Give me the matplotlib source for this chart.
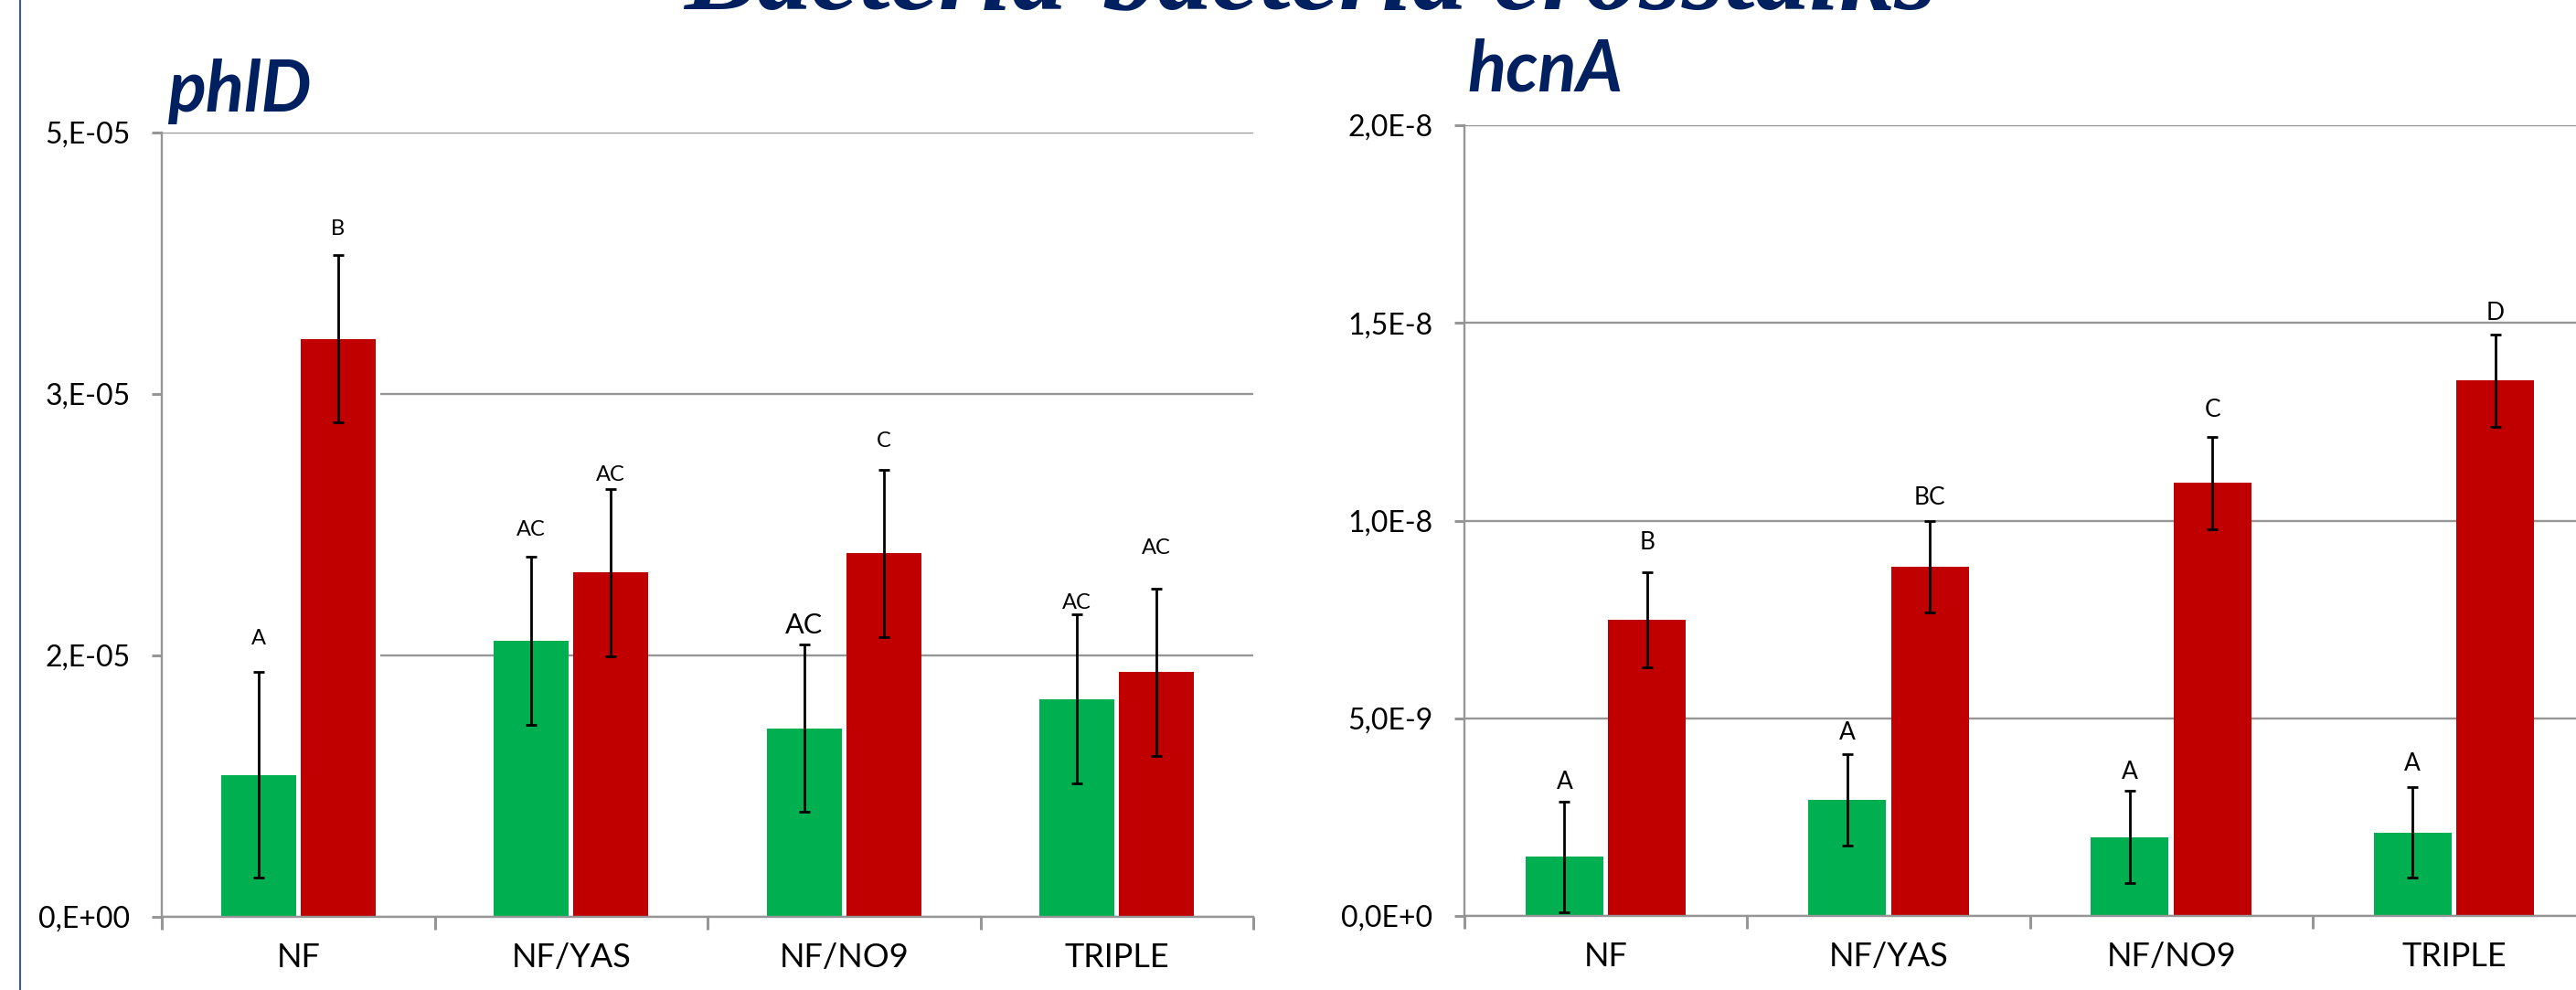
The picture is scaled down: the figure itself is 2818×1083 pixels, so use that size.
import numpy as np
import matplotlib
matplotlib.use("Agg")
import matplotlib.pyplot as plt
from matplotlib.patches import Rectangle
from matplotlib.lines import Line2D

plt.rcParams['font.family'] = ['Lato', 'DejaVu Sans']

categories = ["NF", "NF/YAS", "NF/NO9", "TRIPLE"]

# phlD panel
phld_green = [8.15e-6, 1.584e-5, 1.081e-5, 1.249e-5]
phld_green_err = [5.9e-6, 4.85e-6, 4.8e-6, 4.85e-6]
phld_red = [3.317e-5, 1.976e-5, 2.087e-5, 1.404e-5]
phld_red_err = [4.8e-6, 4.8e-6, 4.8e-6, 4.8e-6]
phld_green_letters = ["A", "AC", "AC", "AC"]
phld_red_letters = ["B", "AC", "C", "AC"]
phld_green_letter_y = [1.598e-5, 2.219e-5, 1.673e-5, 1.801e-5]
phld_red_letter_y = [3.948e-5, 2.538e-5, 2.728e-5, 2.114e-5]
phld_ticks = [0, 1.5e-5, 3e-5, 4.5e-5]
phld_ticklabels = ["0,E+00", "2,E-05", "3,E-05", "5,E-05"]

# hcnA panel
hcna_green = [1.50e-9, 2.93e-9, 2.00e-9, 2.11e-9]
hcna_green_err = [1.4e-9, 1.16e-9, 1.16e-9, 1.15e-9]
hcna_red = [7.50e-9, 8.84e-9, 1.095e-8, 1.354e-8]
hcna_red_err = [1.2e-9, 1.16e-9, 1.16e-9, 1.17e-9]
hcna_green_letters = ["A", "A", "A", "A"]
hcna_red_letters = ["B", "BC", "C", "D"]
hcna_green_letter_y = [3.39e-9, 4.64e-9, 3.65e-9, 3.85e-9]
hcna_red_letter_y = [9.45e-9, 1.058e-8, 1.279e-8, 1.524e-8]
hcna_ticks = [0, 5e-9, 1e-8, 1.5e-8, 2e-8]
hcna_ticklabels = ["0,0E+0", "5,0E-9", "1,0E-8", "1,5E-8", "2,0E-8"]

GREEN = "#00B050"
RED = "#C00000"
GRID = "#969696"
NAVY = "#002060"


def draw_panel(ax, green, green_err, red, red_err, g_letters, r_letters,
               g_ly, r_ly, ticks, ticklabels, letter_size, big_letter=None):
    x = np.arange(len(categories))
    w = 0.275
    off = 0.146
    ax.bar(x - off, green, w, color=GREEN, zorder=2)
    ax.bar(x + off, red, w, color=RED, zorder=2)
    ax.errorbar(x - off, green, yerr=green_err, fmt="none", ecolor="black",
                elinewidth=2, capsize=4.3, capthick=2, zorder=3)
    ax.errorbar(x + off, red, yerr=red_err, fmt="none", ecolor="black",
                elinewidth=2, capsize=4.3, capthick=2, zorder=3)
    for i in range(len(categories)):
        size = letter_size
        if big_letter is not None and i == big_letter:
            size = letter_size * 1.3
        ax.text(x[i] - off, g_ly[i], g_letters[i], ha="center", va="center",
                fontsize=size, zorder=4)
        ax.text(x[i] + off, r_ly[i], r_letters[i], ha="center", va="center",
                fontsize=letter_size, zorder=4)

    ax.set_xlim(-0.5, len(categories) - 0.5)
    ax.set_ylim(0, ticks[-1])
    ax.set_yticks(ticks)
    ax.set_yticklabels(ticklabels)
    ax.set_xticks(np.arange(-0.5, len(categories), 1))
    ax.set_xticklabels([])
    ax.set_xticks(x, minor=True)
    ax.set_xticklabels(categories, minor=True)
    ax.tick_params(axis="x", which="major", length=14 * 0.72, width=2.2, color=GRID)
    ax.tick_params(axis="x", which="minor", length=0, pad=20, labelsize=26)
    ax.tick_params(axis="y", length=11 * 0.72, width=2.2, color=GRID, pad=17, labelsize=23)

    ax.set_axisbelow(True)
    ax.yaxis.grid(True, color=GRID, linewidth=1.7)
    for s in ["top", "right"]:
        ax.spines[s].set_visible(False)
    for s in ["left", "bottom"]:
        ax.spines[s].set_color(GRID)
        ax.spines[s].set_linewidth(1.7)


fig = plt.figure(figsize=(28.18, 10.83), dpi=100)

ax1 = fig.add_axes([177 / 2818, 80 / 1083, 1194 / 2818, 858 / 1083])
draw_panel(ax1, phld_green, phld_green_err, phld_red, phld_red_err,
           phld_green_letters, phld_red_letters, phld_green_letter_y,
           phld_red_letter_y, phld_ticks, phld_ticklabels, 17, big_letter=2)
# white box over the gridlines next to the first group
ax1.add_patch(Rectangle((-0.5, 1.2e-5), 0.8, 2.8e-5, facecolor="white",
                        edgecolor="none", zorder=0.8))

ax2 = fig.add_axes([1602 / 2818, 81 / 1083, 1237 / 2818, 865 / 1083])
draw_panel(ax2, hcna_green, hcna_green_err, hcna_red, hcna_red_err,
           hcna_green_letters, hcna_red_letters, hcna_green_letter_y,
           hcna_red_letter_y, hcna_ticks, hcna_ticklabels, 19)

fig.text(183 / 2818, 1 - 122 / 1083, "phlD", fontsize=56, fontweight="bold",
         fontstyle="italic", color=NAVY, ha="left", va="baseline")
fig.text(1605 / 2818, 1 - 100 / 1083, "hcnA", fontsize=56, fontweight="bold",
         fontstyle="italic", color=NAVY, ha="left", va="baseline")

fig.text(0.5087, 1 - 9 / 1083, "Bacteria-bacteria crosstalks", fontsize=86,
         fontweight="bold", fontstyle="italic", color=NAVY,
         family=["Liberation Serif", "DejaVu Serif"], ha="center", va="baseline")

fig.add_artist(Line2D([22 / 2818, 22 / 2818], [0, 1], color="#3A5BA0",
                      linewidth=1.5, transform=fig.transFigure))

fig.savefig("out.png", dpi=100)
